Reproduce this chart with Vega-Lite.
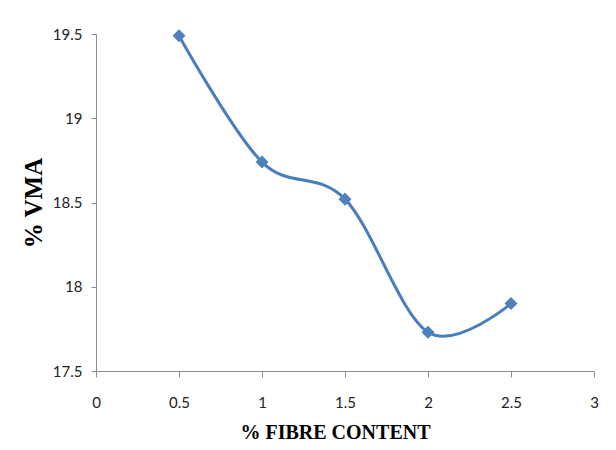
{
  "$schema": "https://vega.github.io/schema/vega-lite/v6.json",
  "width": 498,
  "height": 337,
  "autosize": {"type": "none"},
  "padding": {"left": 96, "top": 34, "right": 22, "bottom": 79},
  "background": "white",
  "config": {
    "view": {"stroke": null},
    "axis": {
      "grid": false,
      "domainColor": "#8c8c8c",
      "tickColor": "#8c8c8c",
      "labelFont": "Lato",
      "labelFontSize": 15,
      "labelColor": "#222222",
      "titleFont": "Liberation Serif",
      "titleFontWeight": "bold",
      "titleColor": "#000000"
    }
  },
  "data": {
    "values": [
      {"fibre": 0.5, "vma": 19.49},
      {"fibre": 1.0, "vma": 18.74},
      {"fibre": 1.5, "vma": 18.52},
      {"fibre": 2.0, "vma": 17.73},
      {"fibre": 2.5, "vma": 17.90}
    ]
  },
  "encoding": {
    "x": {
      "field": "fibre",
      "type": "quantitative",
      "scale": {"domain": [0, 3], "nice": false, "zero": false},
      "axis": {
        "title": "% FIBRE CONTENT",
        "titleFontSize": 20,
        "titleX": 239,
        "titleAlign": "center",
        "values": [0, 0.5, 1, 1.5, 2, 2.5, 3],
        "format": "~g",
        "tickSize": 6,
        "labelPadding": 18,
        "titlePadding": 12,
        "labelFlush": false
      }
    },
    "y": {
      "field": "vma",
      "type": "quantitative",
      "scale": {"domain": [17.5, 19.5], "nice": false, "zero": false},
      "axis": {
        "title": "% VMA",
        "titleFontSize": 25,
        "values": [17.5, 18, 18.5, 19, 19.5],
        "format": "~g",
        "tickSize": 5,
        "labelPadding": 9,
        "titlePadding": 6,
        "labelFlush": false
      }
    }
  },
  "layer": [
    {
      "mark": {"type": "line", "interpolate": "cardinal", "color": "#4a7ebb", "strokeWidth": 3}
    },
    {
      "mark": {"type": "point", "shape": "diamond", "filled": true, "size": 170, "color": "#4f81bd", "opacity": 1}
    }
  ]
}
